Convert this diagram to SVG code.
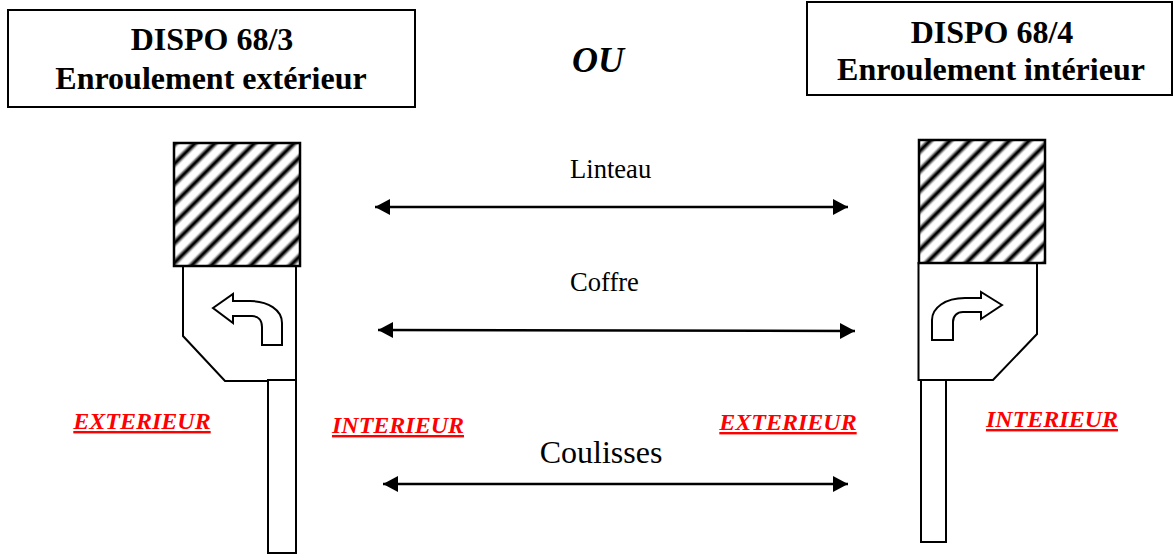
<svg xmlns="http://www.w3.org/2000/svg" width="1174" height="554" viewBox="0 0 1174 554">
<style>
text{font-family:"Liberation Serif","Times New Roman",serif;fill:#000}
.t{font-weight:bold;font-size:32px;text-anchor:middle}
.l{font-size:26.6px}
.r{font-weight:bold;font-style:italic;font-size:24px;fill:#f00;text-decoration:underline;text-anchor:middle}
.b{fill:#fff;stroke:#000;stroke-width:2}
.s{fill:none;stroke:#000;stroke-width:2}
.h{stroke:#000;stroke-width:2.5}
.c{fill:none;stroke:#000;stroke-width:2.5;marker-start:url(#a);marker-end:url(#a)}
</style>
<defs>
<linearGradient id="g"><stop offset="0.22" stop-color="#fff"/><stop offset="0.46" stop-color="#000"/><stop offset="0.54" stop-color="#000"/><stop offset="0.78" stop-color="#fff"/></linearGradient>
<pattern id="p1" patternUnits="userSpaceOnUse" width="14" height="14" patternTransform="rotate(45 174 143)"><rect width="14" height="14" fill="url(#g)"/></pattern>
<marker id="a" markerUnits="userSpaceOnUse" markerWidth="17" markerHeight="18" refX="15" refY="9" orient="auto-start-reverse"><path d="M0 1L15 9L0 17Z" fill="#000"/></marker>
</defs>
<g id="box-left"><rect class="b" x="8" y="10" width="407" height="97"/><text class="t" x="212" y="50">DISPO 68/3</text><text class="t" x="211" y="89">Enroulement extérieur</text></g>
<g id="box-right"><rect class="b" x="807" y="2" width="365" height="93"/><text class="t" x="992" y="43">DISPO 68/4</text><text class="t" x="991" y="80">Enroulement intérieur</text></g>
<g id="ou"><text x="598" y="72" font-size="36" font-weight="bold" font-style="italic" text-anchor="middle">OU</text></g>
<g id="linteau"><text class="l" x="570" y="178">Linteau</text></g>
<g id="coffre"><text class="l" x="570" y="291">Coffre</text></g>
<g id="coulisses"><text x="601" y="463" font-size="32" text-anchor="middle">Coulisses</text></g>
<g id="label-ext-left"><text class="r" x="142" y="429">EXTERIEUR</text></g>
<g id="label-int-left"><text class="r" x="398" y="433">INTERIEUR</text></g>
<g id="label-ext-right"><text class="r" x="788" y="430">EXTERIEUR</text></g>
<g id="label-int-right"><text class="r" x="1052" y="427">INTERIEUR</text></g>
<g id="dispo-left">
<path class="b" d="M183 266V336L225 381H296V266"/>
<rect class="h" x="174" y="143" width="126" height="123" fill="url(#p1)"/>
<rect class="b" x="268" y="380" width="28" height="173"/>
<path class="s" d="M213 308L233 294V301H250C268 301 282 310 282 323V345H262V327C262 320 258 316 252 316H233V323Z"/>
</g>
<g id="dispo-right">
<path class="b" d="M918.500 262V380H993L1037 334V259"/>
<rect class="h" x="919" y="140" width="126" height="123" fill="url(#p1)"/>
<rect class="b" x="921" y="380" width="25" height="162"/>
<path class="s" d="M1002 305L981 292V298H965C945 298 932 308 932 320V340H953V322C953 316 957 312 963 312H981V319Z"/>
</g>
<g id="connectors">
<path class="c" d="M375 207H848"/>
<path class="c" d="M378 330L855 331"/>
<path class="c" d="M383 484H848"/>
</g>
</svg>
